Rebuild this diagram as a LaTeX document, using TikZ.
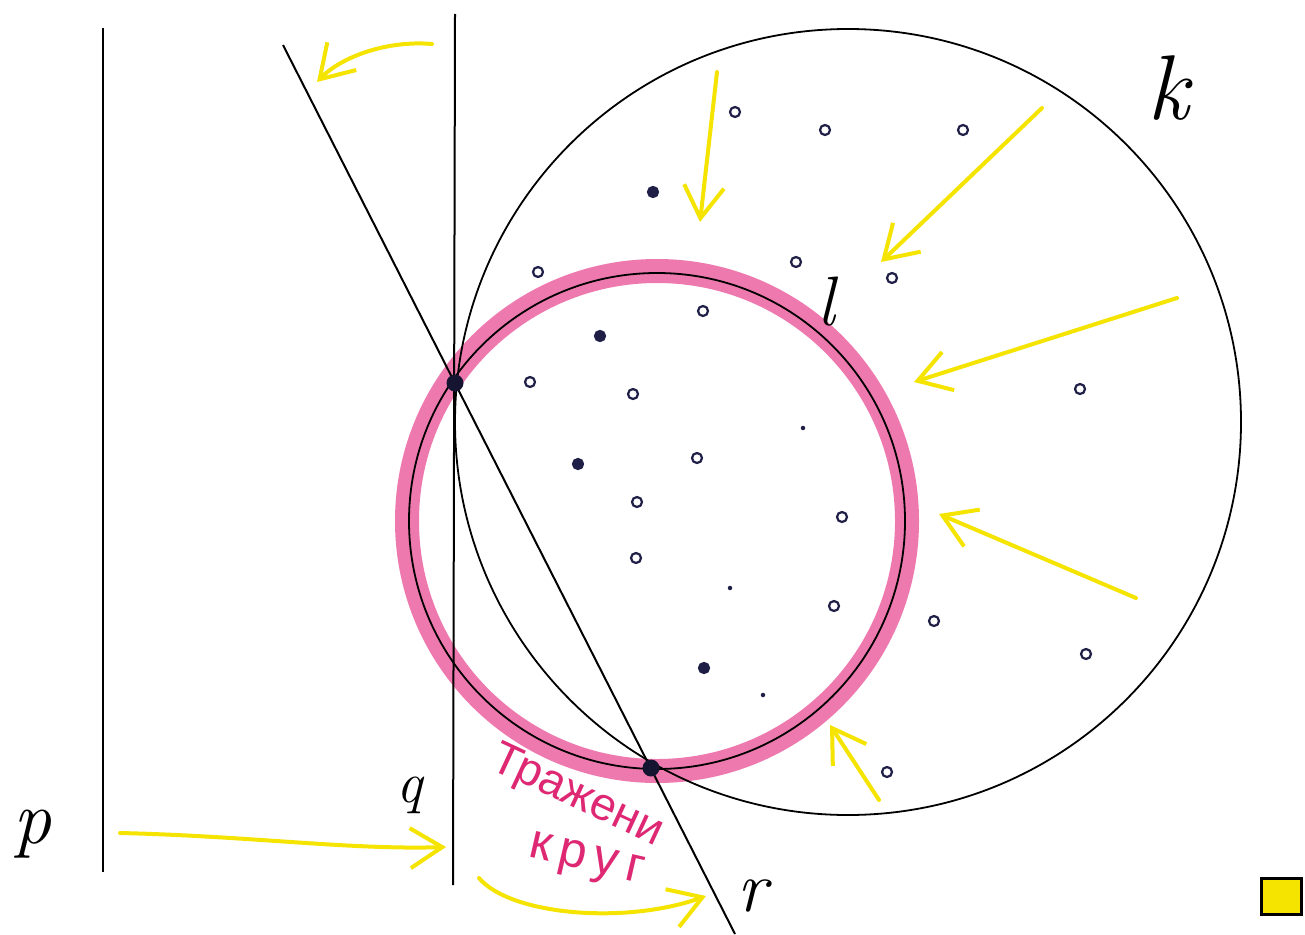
\documentclass[tikz,border=0pt]{standalone}
\usepackage{fontspec}
\newfontfamily\cyr{Liberation Sans}
\newfontfamily\lab{Latin Modern Roman}
\usetikzlibrary{arrows.meta}
\definecolor{hl}{RGB}{245,228,0}
\definecolor{pinkband}{RGB}{232,70,145}
\definecolor{magtext}{RGB}{222,40,115}
\definecolor{navy}{RGB}{30,30,70}
\tikzset{
  hand/.style={line width=2pt, black},
  yarrow/.style={line width=4pt, hl, line cap=round,
    -{Straight Barb[length=32pt,width=40pt,line width=4pt]}},
  pt/.style={circle, draw=navy, line width=2.2pt, fill=white, inner sep=0pt, minimum size=10pt},
  ptf/.style={pt, fill=navy},
  speck/.style={circle, fill=navy, inner sep=0pt, minimum size=4.5pt},
  bigdot/.style={circle, fill=navy!70!black, inner sep=0pt, minimum size=17pt},
  lbl/.style={inner sep=0pt}
}
\begin{document}
\begin{tikzpicture}[x=1pt,y=-1pt]
\useasboundingbox (0,0) rectangle (1305,934);
\fill[white] (0,0) rectangle (1305,934);

% highlighted circle band
\draw[pinkband, opacity=0.72, line width=24pt] (657,521) circle[radius=250];

% circle k
\draw[hand, line width=1.8pt] (848,422) circle[radius=393];

% lines p, q, r
\coordinate (p1) at (103,28);  \coordinate (p2) at (103,872);
\coordinate (q1) at (455,14);  \coordinate (q2) at (453,885);
\coordinate (r1) at (283,45);  \coordinate (r2) at (735,934);
\draw[hand] (p1) -- (p2);
\draw[hand] (q1) -- (q2);
\draw[hand] (r1) -- (r2);

% circle l
\draw[hand, line width=1.8pt] (657,521) circle[radius=248];

% yellow arrows
\coordinate (a1s) at (432,44);   \coordinate (a1e) at (317,82);
\coordinate (a2s) at (717,72);   \coordinate (a2e) at (700,222);
\coordinate (a3s) at (1042,108); \coordinate (a3e) at (881,262);
\coordinate (a4s) at (1177,298); \coordinate (a4e) at (914,382);
\coordinate (a5s) at (1136,598); \coordinate (a5e) at (939,514);
\coordinate (a6s) at (879,800);  \coordinate (a6e) at (830,725);
\coordinate (a7s) at (120,833);  \coordinate (a7e) at (446,847);
\coordinate (a8s) at (479,878);  \coordinate (a8e) at (706,896);
\draw[yarrow] (a1s) .. controls (385,40) and (340,58) .. (a1e);
\draw[yarrow] (a2s) -- (a2e);
\draw[yarrow] (a3s) -- (a3e);
\draw[yarrow] (a4s) -- (a4e);
\draw[yarrow] (a5s) -- (a5e);
\draw[yarrow] (a6s) -- (a6e);
\draw[yarrow] (a7s) .. controls (250,836) and (350,850) .. (a7e);
\draw[yarrow] (a8s) .. controls (510,915) and (625,925) .. (a8e);

% points of the set
\foreach \n/\x/\y in {1/735/112, 2/825/130, 3/963/130, 5/538/272,
  6/796/262, 7/892/278, 9/703/311, 10/530/382, 11/633/394, 12/1080/389,
  14/697/458, 15/637/502, 16/842/517, 17/636/558, 18/834/606, 19/934/621,
  20/1086/654, 22/887/772}
  \node[pt] (d\n) at (\x,\y) {};
\foreach \n/\x/\y in {4/653/192, 8/600/336, 13/578/464, 21/704/668}
  \node[ptf] (d\n) at (\x,\y) {};
\foreach \n/\x/\y in {23/803/428, 24/730/588, 25/763/695}
  \node[speck] (d\n) at (\x,\y) {};

% intersection points
\node[bigdot] (A) at (455,383) {};
\node[bigdot] (B) at (651,768) {};

% labels
\node[lbl] (lp) at (32,834) {\lab\itshape\fontsize{76}{76}\selectfont p};
\node[lbl] (lq) at (410,795) {\lab\itshape\fontsize{58}{58}\selectfont q};
\node[lbl] (lk) at (1168,88) {\lab\itshape\fontsize{92}{92}\selectfont k};
\node[lbl] (ll) at (826,302) {\lab\itshape\fontsize{70}{70}\selectfont l};
\node[lbl] (lr) at (752,896) {\lab\itshape\fontsize{72}{72}\selectfont r};

\node[lbl, text=magtext, rotate=-25] (t1) at (577,797)
  {\cyr\fontsize{46}{46}\selectfont Тражени};
\node[lbl, text=magtext, rotate=-13] (t2) at (586,862)
  {\cyr\fontsize{50}{50}\addfontfeature{LetterSpace=16}\selectfont круг};

% legend box
\node[draw, line width=3pt, fill=hl, minimum width=40pt, minimum height=36pt] (box) at (1281,896) {};
\end{tikzpicture}
\end{document}
